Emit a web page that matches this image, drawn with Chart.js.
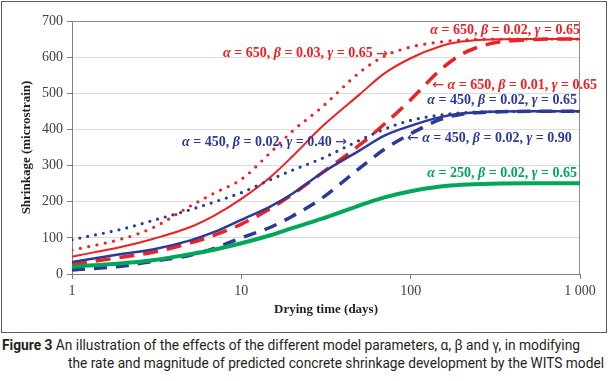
<!DOCTYPE html>
<html lang="en">
<head>
    <meta charset="UTF-8">
    <title>WITS model shrinkage</title>
    <script src="https://cdn.jsdelivr.net/npm/chart.js"></script>
    <style>
        body { margin: 0; background: #fff; width: 608px; height: 381px; overflow: hidden; position: relative; }
        #frame { position: absolute; left: 1px; top: 1px; width: 604px; height: 330px; border: 1px solid #5b5b5b; }
        .caption { position: absolute; font-family: Roboto, "Open Sans", sans-serif; transform-origin: 0 0;
                   font-size: 14px; color: #231f20; white-space: nowrap; line-height: 16px; }
        .caption b { font-weight: bold; }
    </style>
</head>
<body>

    <div id="frame"><canvas id="chart"></canvas></div>

    <div class="caption" data-width="578" style="left: 2px; top: 337px;"><b>Figure 3</b> An illustration of the effects of the different model parameters, α, β and γ, in modifying</div>
    <div class="caption" data-width="536" style="left: 68px; top: 355px;">the rate and magnitude of predicted concrete shrinkage development by the WITS model</div>

    <script>
        // drying time (days) and shrinkage (microstrain)
        const days = [1, 2, 3, 5, 7, 10, 15, 20, 30, 50, 70, 100, 150, 200, 300, 500, 700, 1000];

        const a650b002 = [48, 76, 97, 130, 163, 208, 270, 325, 408, 497, 555, 597, 630, 643, 649, 650, 650, 650];
        const a650b003 = [66, 98, 128, 188, 225, 262, 338, 395, 462, 558, 603, 628, 642, 647, 650, 650, 650, 650];
        const a650b001 = [26, 47, 60, 86, 108, 138, 182, 220, 280, 357, 415, 482, 565, 608, 638, 648, 650, 650];
        const a450g065 = [33, 56, 68, 93, 117, 150, 188, 222, 280, 342, 383, 410, 434, 444, 449, 450, 450, 450];
        const a450g040 = [95, 125, 148, 178, 200, 225, 262, 287, 320, 370, 401, 425, 440, 446, 449, 450, 450, 450];
        const a450g090 = [11, 22, 35, 52, 72, 100, 130, 160, 210, 293, 345, 388, 428, 442, 448, 450, 450, 450];
        const a250b002 = [20, 30, 38, 55, 68, 85, 108, 127, 153, 190, 212, 229, 242, 247, 250, 251, 251, 251];

        const xTickValues = [1, 10, 100, 1000];
        const xTickLabels = ['1', '10', '100', '1 000'];

        const RED = '#ed2024';
        const BLUE = '#2b3a96';
        const GREEN = '#00a65a';
        const SERIF = '"Liberation Serif", "DejaVu Serif", serif';

        // text notes, anchored in data units (days, microstrain)
        const notes = [
            { text: 'α = 650, β = 0.02, γ = 0.65', color: RED, t: 1000, v: 675, align: 'right' },
            { text: 'α = 650, β = 0.03, γ = 0.65 →', color: RED, t: 7.8, v: 609, align: 'left' },
            { text: '← α = 650, β = 0.01, γ = 0.65', color: RED, t: 134, v: 523, align: 'left' },
            { text: 'α = 450, β = 0.02, γ = 0.65', color: BLUE, t: 960, v: 479, align: 'right' },
            { text: 'α = 450, β = 0.02, γ = 0.40 →', color: BLUE, t: 4.47, v: 365, align: 'left' },
            { text: '← α = 450, β = 0.02, γ = 0.90', color: BLUE, t: 95, v: 374, align: 'left' },
            { text: 'α = 250, β = 0.02, γ = 0.65', color: GREEN, t: 960, v: 279, align: 'right' }
        ];

        // squeeze caption lines to the width they take in the figure
        document.querySelectorAll('.caption').forEach(el => {
            const w = el.getBoundingClientRect().width;
            el.style.transform = 'scaleX(' + (el.dataset.width / w) + ')';
        });

        function series(values, color, width, dash, cap) {
            return {
                data: days.map((d, i) => ({ x: d, y: values[i] })),
                borderColor: color,
                borderWidth: width,
                borderDash: dash,
                borderCapStyle: cap,
                pointRadius: 0,
                cubicInterpolationMode: 'monotone',
                fill: false
            };
        }

        // top and right edges of the plot box
        const boxPlugin = {
            id: 'box',
            beforeDatasetsDraw(chart) {
                const { ctx, chartArea: a } = chart;
                ctx.save();
                ctx.strokeStyle = '#8c8c8c';
                ctx.lineWidth = 1;
                ctx.beginPath();
                ctx.moveTo(a.left, a.top + 0.5);
                ctx.lineTo(a.right - 0.5, a.top + 0.5);
                ctx.lineTo(a.right - 0.5, a.bottom);
                ctx.stroke();
                ctx.restore();
            }
        };

        const notesPlugin = {
            id: 'notes',
            afterDatasetsDraw(chart) {
                const { ctx, scales: { x, y } } = chart;
                const plain = 'bold 14px ' + SERIF;
                const greek = 'italic bold 14px ' + SERIF;
                const arrow = '14px "DejaVu Sans", sans-serif';
                const fontFor = p => /[αβγ]/.test(p) ? greek : (/[←→]/.test(p) ? arrow : plain);
                ctx.save();
                ctx.textBaseline = 'middle';
                notes.forEach(n => {
                    const parts = n.text.split(/([αβγ←→])/).filter(p => p.length);
                    let total = 0;
                    parts.forEach(p => {
                        ctx.font = fontFor(p);
                        total += ctx.measureText(p).width;
                    });
                    let px = x.getPixelForValue(n.t);
                    const py = y.getPixelForValue(n.v);
                    if (n.align === 'right') px -= total;
                    ctx.fillStyle = n.color;
                    parts.forEach(p => {
                        ctx.font = fontFor(p);
                        ctx.fillText(p, px, py);
                        px += ctx.measureText(p).width;
                    });
                });
                ctx.restore();
            }
        };

        new Chart(document.getElementById('chart'), {
            type: 'line',
            data: {
                datasets: [
                    series(a250b002, GREEN, 4, [], 'butt'),
                    series(a450g090, BLUE, 3.5, [13, 9], 'butt'),
                    series(a450g040, BLUE, 3.2, [0, 8], 'round'),
                    series(a450g065, BLUE, 2.5, [], 'butt'),
                    series(a650b001, RED, 3.5, [15, 9], 'butt'),
                    series(a650b003, RED, 3.2, [0, 8.5], 'round'),
                    series(a650b002, RED, 2, [], 'butt')
                ]
            },
            options: {
                responsive: true,
                maintainAspectRatio: false,
                animation: false,
                layout: { padding: { top: 19, right: 26, bottom: 0, left: 0 } },
                plugins: { legend: { display: false }, tooltip: { enabled: false } },
                scales: {
                    x: {
                        type: 'logarithmic',
                        min: 1,
                        max: 1000,
                        afterBuildTicks: s => { s.ticks = xTickValues.map(v => ({ value: v })); },
                        afterFit: s => { s.height = 58; },
                        ticks: {
                            autoSkip: false,
                            maxRotation: 0,
                            padding: 4,
                            color: '#404040',
                            font: { family: SERIF, size: 14 },
                            callback: v => xTickLabels[xTickValues.indexOf(v)]
                        },
                        grid: { drawOnChartArea: false, tickLength: 5, tickColor: '#808080' },
                        border: { color: '#808080', width: 1 },
                        title: {
                            display: true,
                            text: 'Drying time (days)',
                            color: '#231f20',
                            font: { family: SERIF, size: 13, weight: 'bold' },
                            padding: { top: 0, bottom: 15 }
                        }
                    },
                    y: {
                        min: 0,
                        max: 700,
                        afterFit: s => { s.width = 70; },
                        ticks: {
                            stepSize: 100,
                            padding: 4,
                            color: '#404040',
                            font: { family: SERIF, size: 14 }
                        },
                        grid: { color: '#dcdcdc', tickColor: '#808080', tickLength: 5 },
                        border: { color: '#808080', width: 1 },
                        title: {
                            display: true,
                            text: 'Shrinkage (microstrain)',
                            color: '#231f20',
                            font: { family: SERIF, size: 13, weight: 'bold' },
                            padding: { top: 17, bottom: 0 }
                        }
                    }
                }
            },
            plugins: [boxPlugin, notesPlugin]
        });
    </script>

</body>
</html>
